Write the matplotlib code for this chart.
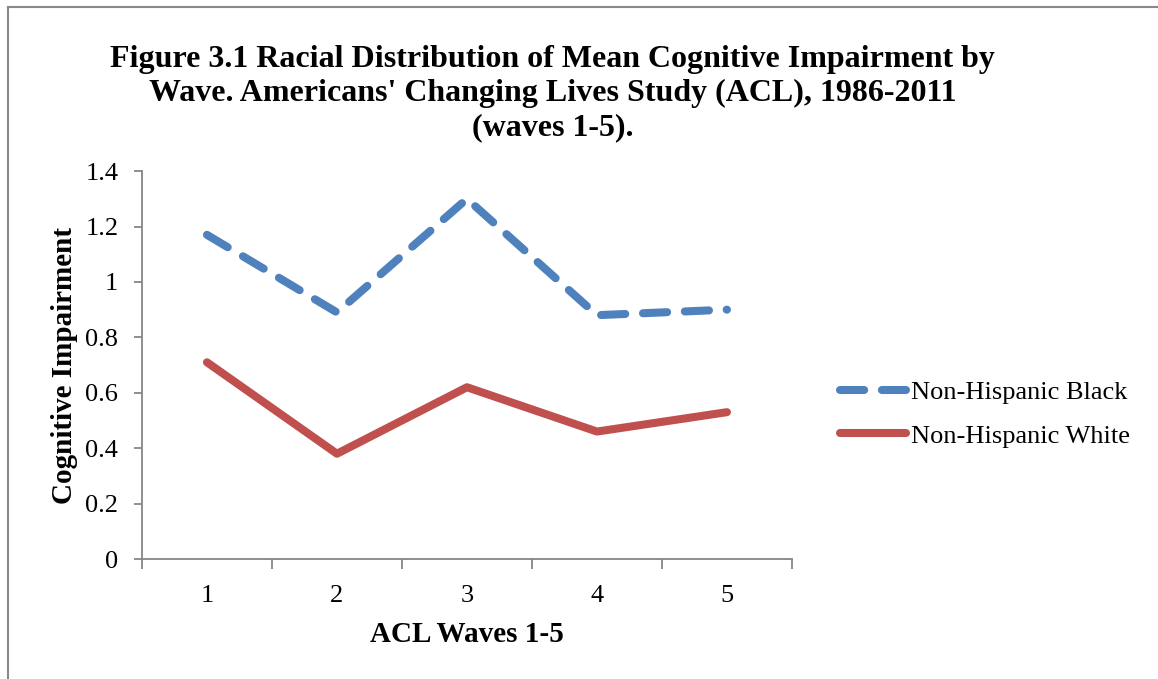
import matplotlib.pyplot as plt
import numpy as np

# mean cognitive impairment by ACL wave
waves = [1, 2, 3, 4, 5]
black = [1.17, 0.89, 1.30, 0.88, 0.90]
white = [0.71, 0.38, 0.62, 0.46, 0.53]
series_names = ['Non-Hispanic Black', 'Non-Hispanic White']
yticks = [0, 0.2, 0.4, 0.6, 0.8, 1, 1.2, 1.4]

fig = plt.figure(figsize=(11.58, 6.79), dpi=100)
ax = fig.add_axes([0.1226, 0.1767, 0.5613, 0.5713])

ax.plot(waves, black, color='#4F81BD', lw=5.8, linestyle=(0, (3.0, 2.2)),
        dash_capstyle='round', solid_capstyle='round', label=series_names[0])
ax.plot(waves, white, color='#C0504D', lw=5.8, solid_capstyle='round',
        solid_joinstyle='round', label=series_names[1])

ax.set_xlim(0.5, 5.5)
ax.set_ylim(0, 1.4)
ax.set_yticks(yticks)
ax.set_yticklabels(['0', '0.2', '0.4', '0.6', '0.8', '1', '1.2', '1.4'],
                   family='Liberation Serif', fontsize=19)
# category axis: ticks on the boundaries, labels in the middle
ax.set_xticks(np.arange(0.5, 6, 1))
ax.set_xticklabels([])
ax.set_xticks(waves, minor=True)
ax.set_xticklabels([str(w) for w in waves], minor=True,
                   family='Liberation Serif', fontsize=19)
ax.tick_params(axis='x', which='minor', length=0, pad=19)
ax.tick_params(axis='x', which='major', length=7, width=1.3, color='#868686')
ax.tick_params(axis='y', length=6, width=1.3, color='#868686', pad=11)

for s in ['top', 'right']:
    ax.spines[s].set_visible(False)
for s in ['left', 'bottom']:
    ax.spines[s].set_color('#868686')
    ax.spines[s].set_linewidth(1.3)

ax.set_ylabel('Cognitive Impairment', family='Liberation Serif',
              fontweight='bold', fontsize=21, labelpad=5)
ax.set_xlabel('ACL Waves 1-5', family='Liberation Serif',
              fontweight='bold', fontsize=21, labelpad=10)

fig.text(0.477, 0.934,
         "Figure 3.1 Racial Distribution of Mean Cognitive Impairment by\n"
         "Wave. Americans' Changing Lives Study (ACL), 1986-2011\n"
         "(waves 1-5).",
         ha='center', va='top', family='Liberation Serif', fontweight='bold',
         fontsize=23, linespacing=1.23)

leg = fig.legend(loc='center left', bbox_to_anchor=(0.7045, 0.39),
                 frameon=False, prop={'family': 'Liberation Serif', 'size': 19},
                 handlelength=2.5, handletextpad=0.2, labelspacing=0.75)

# chart border
fig.add_artist(plt.Line2D([0.007, 0.007], [0, 0.99], color='#888888',
                          lw=1.5, transform=fig.transFigure))
fig.add_artist(plt.Line2D([0.007, 1], [0.99, 0.99], color='#888888',
                          lw=1.5, transform=fig.transFigure))

fig.savefig('out.png', dpi=100)
